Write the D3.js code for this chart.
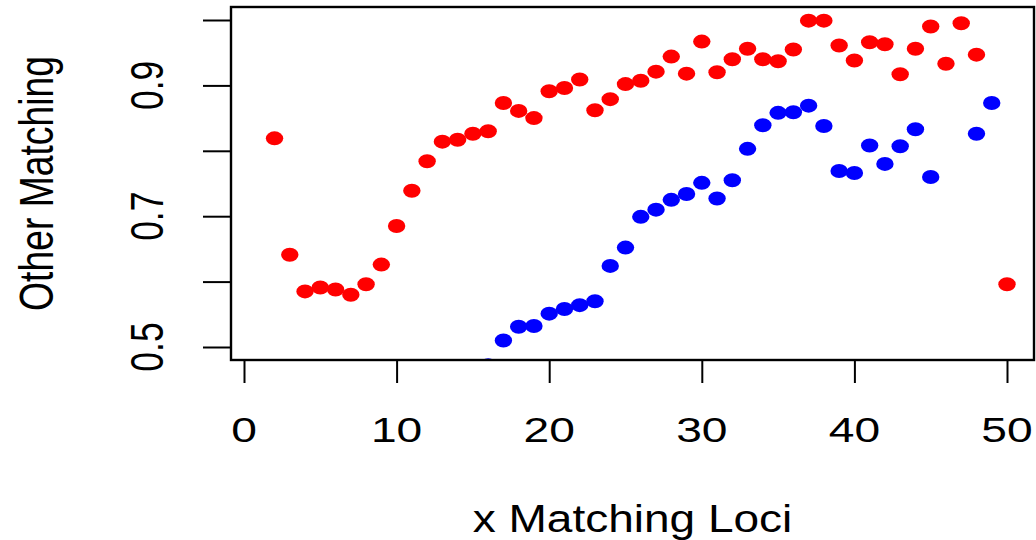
<!DOCTYPE html>
<html>
<head>
<meta charset="utf-8">
<script src="https://cdn.jsdelivr.net/npm/d3@7"></script>
<style>
  body { margin: 0; background: #fff; }
  text { font-family: "Liberation Sans", Arial, sans-serif; fill: #000; }
</style>
</head>
<body>
<div id="chart"></div>
<script>
// x positions (matching loci) and values
var redX = [2,3,4,5,6,7,8,9,10,11,12,13,14,15,16,17,18,19,20,21,22,23,24,25,26,27,28,29,30,31,32,33,34,35,36,37,38,39,40,41,42,43,44,45,46,47,48,50];
var redY = [0.819,0.641,0.585,0.591,0.588,0.580,0.596,0.626,0.685,0.739,0.784,0.814,0.817,0.826,0.830,0.873,0.861,0.850,0.891,0.896,0.909,0.862,0.879,0.902,0.907,0.921,0.944,0.918,0.967,0.920,0.940,0.956,0.940,0.937,0.955,0.999,0.999,0.961,0.938,0.966,0.963,0.917,0.956,0.990,0.933,0.995,0.947,0.596];

var blueX = [16,17,18,19,20,21,22,23,24,25,26,27,28,29,30,31,32,33,34,35,36,37,38,39,40,41,42,43,44,45,48,49];
var blueY = [0.472,0.510,0.531,0.532,0.551,0.558,0.564,0.570,0.624,0.652,0.699,0.710,0.725,0.734,0.751,0.727,0.755,0.803,0.839,0.858,0.859,0.869,0.838,0.769,0.766,0.808,0.780,0.807,0.833,0.760,0.826,0.873];

var xTicks = [0,10,20,30,40,50];
var yTicks = [0.5,0.6,0.7,0.8,0.9,1.0];
var yLabels = [0.5,0.7,0.9];

var W = 1036, H = 540;
var box = {l:231, r:1034, t:7, b:360};
var sx = 1.3, fs = 35.5;

var x = d3.scaleLinear().domain([0,50]).range([244,1007]);
var y = d3.scaleLinear().domain([0.5,1.0]).range([347,20]);

var svg = d3.select("#chart")
  .append("svg")
  .attr("width", W)
  .attr("height", H);

svg.append("rect").attr("width", W).attr("height", H).attr("fill","#fff");

svg.append("clipPath")
  .attr("id","plotclip")
  .append("rect")
  .attr("x", box.l).attr("y", box.t)
  .attr("width", box.r-box.l).attr("height", box.b-box.t);

var pts = svg.append("g").attr("clip-path","url(#plotclip)");

function drawPoints(xs, ys, col){
  var data = xs.map(function(d,i){ return {x:d, y:ys[i]}; });
  pts.selectAll(null)
    .data(data)
    .enter()
    .append("ellipse")
    .attr("cx", function(d){ return x(d.x); })
    .attr("cy", function(d){ return y(d.y); })
    .attr("rx", 8.7)
    .attr("ry", 7)
    .attr("fill", col);
}

drawPoints(redX, redY, "#ff0000");
drawPoints(blueX, blueY, "#0000ff");

// box
svg.append("rect")
  .attr("x", box.l).attr("y", box.t)
  .attr("width", box.r-box.l).attr("height", box.b-box.t)
  .attr("fill","none")
  .attr("stroke","#000")
  .attr("stroke-width", 2.4);

// x axis
var xAxis = d3.axisBottom(x).tickValues(xTicks).tickSize(23).tickFormat("");
var gx = svg.append("g").attr("transform","translate(0,"+box.b+")").call(xAxis);
gx.select(".domain").attr("stroke-width",2).attr("d","M"+x(0)+",0H"+x(50));
gx.selectAll(".tick line").attr("stroke-width",2);

svg.selectAll(".xlab")
  .data(xTicks)
  .enter()
  .append("text")
  .attr("class","xlab")
  .attr("transform", function(d){ return "translate("+x(d)+",442) scale("+sx+",1)"; })
  .attr("text-anchor","middle")
  .attr("font-size", fs)
  .text(function(d){ return d; });

// y axis
var yAxis = d3.axisLeft(y).tickValues(yTicks).tickSize(28).tickFormat("");
var gy = svg.append("g").attr("transform","translate("+box.l+",0)").call(yAxis);
gy.select(".domain").attr("stroke-width",2).attr("d","M0,"+y(0.5)+"V"+y(1.0));
gy.selectAll(".tick line").attr("stroke-width",2);

svg.selectAll(".ylab")
  .data(yLabels)
  .enter()
  .append("text")
  .attr("class","ylab")
  .attr("transform", function(d){ return "translate(163,"+y(d)+") scale("+sx+",1) rotate(-90)"; })
  .attr("text-anchor","middle")
  .attr("font-size", fs)
  .text(function(d){ return d3.format(".1f")(d); });

// axis titles
svg.append("text")
  .attr("transform","translate("+((box.l+box.r)/2)+",532) scale(1.18,1)")
  .attr("text-anchor","middle")
  .attr("font-size", 39)
  .text("x Matching Loci");

svg.append("text")
  .attr("transform","translate(53,"+((box.t+box.b)/2)+") scale(1.29,1) rotate(-90)")
  .attr("text-anchor","middle")
  .attr("font-size", 37.3)
  .text("Other Matching");
</script>
</body>
</html>
